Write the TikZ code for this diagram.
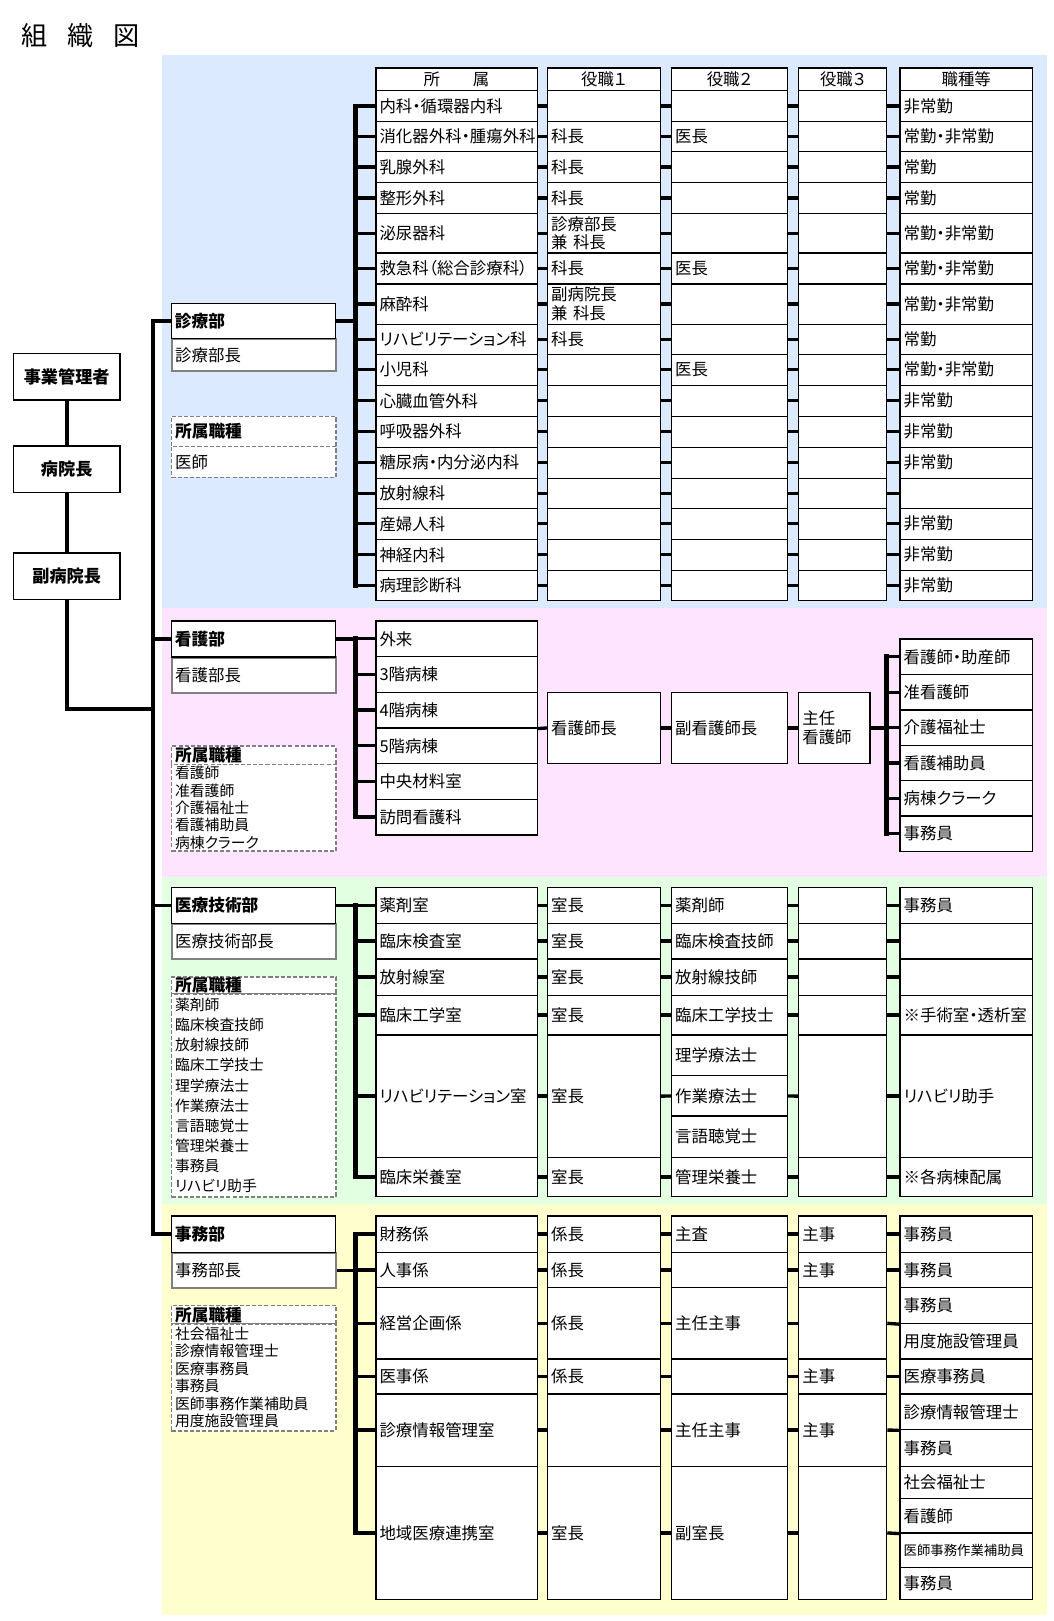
\documentclass[tikz,border=0pt]{standalone}
\usepackage{fontspec}
\setmainfont{Noto Sans CJK JP}[RawFeature={+palt}]
\usepackage{xcolor}

\definecolor{aoiro}{RGB}{219,234,254}
\definecolor{momoiro}{RGB}{255,228,255}
\definecolor{midori}{RGB}{226,255,226}
\definecolor{kiiro}{RGB}{255,255,206}
\definecolor{haiiro}{RGB}{128,128,128}

% one table cell: [style]{name}{x}{y top}{width}{height}{text}
\newcommand{\cel}[7][]{%
  \node[hako,#1,minimum height=#6*0.025cm,text width=#5*0.025cm-5pt]
  (#2) at (#3,#4) {#7};}

\begin{document}
\begin{tikzpicture}[
    x=0.025cm, y=-0.025cm,
    hako/.style={
    draw,
    line width=0.9pt,
    fill=white,
    anchor=north west,
    inner xsep=2.5pt,
    inner ysep=0pt,
    align=left,
    font=\fontsize{11.3}{13}\selectfont
    },
    midashi/.style={hako,align=center},
    bumon/.style={hako,font=\fontsize{11.5}{13}\selectfont\bfseries},
    bucho/.style={hako,draw=haiiro,line width=1.4pt},
    shokushu/.style={hako,draw=haiiro,line width=1.2pt,dash pattern=on 2.8pt off 1.4pt},
    shokushuT/.style={shokushu,font=\fontsize{11.5}{13}\selectfont\bfseries},
    shokushuL/.style={shokushu,font=\fontsize{10.2}{12}\selectfont},
    kanri/.style={
    draw,
    line width=0.9pt,
    fill=white,
    minimum width=103*0.025cm,
    minimum height=45*0.025cm,
    font=\fontsize{11.8}{13}\selectfont\bfseries
    },
    sen/.style={line width=2.3pt},
    link/.style={line width=2.8pt},
    kansen/.style={line width=3.2pt,line cap=rect}
    ]

    \useasboundingbox (0,0) rectangle (1019,1568);

    % backgrounds
    \fill[aoiro] (157,53) rectangle (1013,588);
    \fill[momoiro] (157,588) rectangle (1013,848);
    \fill[midori] (157,848) rectangle (1013,1165);
    \fill[kiiro] (157,1165) rectangle (1013,1562);

    \node[font=\fontsize{18}{20}\selectfont,anchor=west] (daimei)
    at (16,34) {組\hspace{0.75em}織\hspace{0.75em}図};

    % left chain
    \node[kanri] (jigyo) at (64.5,364.5) {事業管理者};
    \node[kanri] (incho) at (64.5,454) {病院長};
    \node[kanri] (fuku) at (64.5,557.5) {副病院長};
    \draw[link] (jigyo) -- (incho);
    \draw[link] (incho) -- (fuku);

    % headers
    \cel[midashi]{hA}{363}{65}{156}{22}{所　　属}
    \cel[midashi]{hB}{529}{65}{109}{22}{役職１}
    \cel[midashi]{hC}{649}{65}{112}{22}{役職２}
    \cel[midashi]{hD}{772}{65}{85}{22}{役職３}
    \cel[midashi]{hE}{870}{65}{128}{22}{職種等}

    % 診療部
    \cel[bucho]{shinc}{165}{326.5}{159}{31.5}{診療部長}
    \cel[bumon]{shin}{165}{293}{159}{33.5}{診療部}
    \cel[shokushuT]{shinS}{165}{402}{159}{29}{所属職種}
    \cel[shokushu]{shinL}{165}{431}{159}{30}{医師}

    \coordinate (sbus) at (344,0);
    \foreach \n/\ty/\hh/\ca/\cb/\cc/\ce in {
      1/87/30/内科・循環器内科/{}/{}/非常勤,
      2/117/29/消化器外科・腫瘍外科/科長/医長/常勤・非常勤,
      3/146/30/乳腺外科/科長/{}/常勤,
      4/176/30/整形外科/科長/{}/常勤,
      5/206/38/泌尿器科/{診療部長\\兼 科長}/{}/常勤・非常勤,
      6/244/30/救急科（総合診療科）/科長/医長/常勤・非常勤,
      7/274/39/麻酔科/{副病院長\\兼 科長}/{}/常勤・非常勤,
      8/313/29/リハビリテーション科/科長/{}/常勤,
      9/342/30/小児科/{}/医長/常勤・非常勤,
      10/372/30/心臓血管外科/{}/{}/非常勤,
      11/402/30/呼吸器外科/{}/{}/非常勤,
      12/432/30/糖尿病・内分泌内科/{}/{}/非常勤,
      13/462/29/放射線科/{}/{}/{},
      14/491/30/産婦人科/{}/{}/非常勤,
      15/521/30/神経内科/{}/{}/非常勤,
      16/551/29/病理診断科/{}/{}/非常勤}{
      \cel{sa\n}{363}{\ty}{156}{\hh}{\ca}
      \cel{sb\n}{529}{\ty}{109}{\hh}{\cb}
      \cel{sc\n}{649}{\ty}{112}{\hh}{\cc}
      \cel{sd\n}{772}{\ty}{85}{\hh}{}
      \cel{se\n}{870}{\ty}{128}{\hh}{\ce}
      \draw[sen] (sbus |- sa\n.west) -- (sa\n.west);
      \draw[sen] (sa\n.east) -- (sb\n.west);
      \draw[sen] (sb\n.east) -- (sc\n.west);
      \draw[sen] (sc\n.east) -- (sd\n.west);
      \draw[sen] (sd\n.east) -- (se\n.west);
    }
    \draw[kansen] (sbus |- sa1.west) -- (sbus |- sa16.west);
    \draw[sen] (shin.east) -- (sbus |- shin.east);

    % 看護部
    \cel[bucho]{kanc}{165}{635}{159}{34.5}{看護部長}
    \cel[bumon]{kan}{165}{600}{159}{35}{看護部}
    \cel[shokushuT]{kanS}{165}{721}{159}{17.6}{所属職種}
    \cel[shokushuL]{kanL}{165}{738.6}{159}{84}{看護師\\准看護師\\介護福祉士\\看護補助員\\病棟クラーク}

    \coordinate (pbus) at (344,0);
    \foreach \n/\ty/\ca in {1/600/外来, 2/634.5/3階病棟, 3/669/4階病棟,
      4/703.5/5階病棟, 5/738/中央材料室, 6/772.5/訪問看護科}{
      \cel{pa\n}{363}{\ty}{156}{34.5}{\ca}
      \draw[sen] (pbus |- pa\n.west) -- (pa\n.west);
    }
    \draw[kansen] (pbus |- pa1.west) -- (pbus |- pa6.west);
    \draw[sen] (kan.east) -- (pbus |- kan.east);

    \cel{nsc}{529}{669}{109}{69}{看護師長}
    \cel{fnc}{649}{669}{112}{69}{副看護師長}
    \cel{snc}{772}{669}{69}{69}{主任\\看護師}
    \draw[sen] (pa3.south east) -- (nsc.west);
    \draw[sen] (nsc.east) -- (fnc.west);
    \draw[sen] (fnc.east) -- (snc.west);

    \coordinate (pbus2) at (857.5,0);
    \foreach \n/\ty/\ce in {1/617.6/看護師・助産師, 2/651.8/准看護師, 3/686/介護福祉士,
      4/720.2/看護補助員, 5/754.4/病棟クラーク, 6/788.6/事務員}{
      \cel{pe\n}{870}{\ty}{128}{34.2}{\ce}
      \draw[sen] (pbus2 |- pe\n.west) -- (pe\n.west);
    }
    \draw[kansen] (pbus2 |- pe1.west) -- (pbus2 |- pe6.west);
    \draw[sen] (snc.east) -- (pbus2 |- snc.east);

    % 医療技術部
    \cel[bucho]{gijuc}{165}{892.5}{159}{34.5}{医療技術部長}
    \cel[bumon]{giju}{165}{858}{159}{34.5}{医療技術部}
    \cel[shokushuT]{gijuS}{165}{944.5}{159}{16}{所属職種}
    \cel[shokushuL,font=\fontsize{10.2}{13.8}\selectfont]{gijuL}{165}{960.5}{159}{196.5}{薬剤師\\臨床検査技師\\放射線技師\\臨床工学技士\\理学療法士\\作業療法士\\言語聴覚士\\管理栄養士\\事務員\\リハビリ助手}

    \coordinate (gbus) at (344,0);
    \foreach \n/\ty/\hh/\ca/\ce in {1/858/34.5/薬剤室/事務員,
      2/892.5/34.5/臨床検査室/{}, 3/927/35/放射線室/{},
      4/962/38.6/臨床工学室/※手術室・透析室,
      5/1000.6/118.1/リハビリテーション室/リハビリ助手,
      6/1118.7/38.3/臨床栄養室/※各病棟配属}{
      \cel{ga\n}{363}{\ty}{156}{\hh}{\ca}
      \cel{gb\n}{529}{\ty}{109}{\hh}{室長}
      \cel{gd\n}{772}{\ty}{85}{\hh}{}
      \cel{ge\n}{870}{\ty}{128}{\hh}{\ce}
      \draw[sen] (gbus |- ga\n.west) -- (ga\n.west);
      \draw[sen] (ga\n.east) -- (gb\n.west);
      \draw[sen] (gd\n.east) -- (ge\n.west);
    }
    \foreach \n/\ty/\hh/\cc in {1/858/34.5/薬剤師, 2/892.5/34.5/臨床検査技師,
      3/927/35/放射線技師, 4/962/38.6/臨床工学技士, 5/1000.6/39.4/理学療法士,
      6/1040/39/作業療法士, 7/1079/39.7/言語聴覚士, 8/1118.7/38.3/管理栄養士}{
      \cel{gc\n}{649}{\ty}{112}{\hh}{\cc}
    }
    \foreach \n/\m in {1/1, 2/2, 3/3, 4/4, 5/6, 6/8}{
      \draw[sen] (gb\n.east) -- (gc\m.west);
      \draw[sen] (gc\m.east) -- (gd\n.west);
    }
    \draw[kansen] (gbus |- ga1.west) -- (gbus |- ga6.west);
    \draw[sen] (giju.east) -- (gbus |- giju.east);

    % 事務部
    \cel[bucho]{jimuc}{165}{1210.6}{159}{34.4}{事務部長}
    \cel[bumon]{jimu}{165}{1175.7}{159}{34.9}{事務部}
    \cel[shokushuT]{jimuS}{165}{1262}{159}{18}{所属職種}
    \cel[shokushuL]{jimuL}{165}{1280}{159}{103}{社会福祉士\\診療情報管理士\\医療事務員\\事務員\\医師事務作業補助員\\用度施設管理員}

    \coordinate (jbus) at (344,0);
    \foreach \n/\ty/\hh/\ca/\cb/\cc/\cd in {
      1/1175.7/34.9/財務係/係長/主査/主事,
      2/1210.6/34.4/人事係/係長/{}/主事,
      3/1245/68.8/経営企画係/係長/主任主事/{},
      4/1313.8/33.9/医事係/係長/{}/主事,
      5/1347.7/70/診療情報管理室/{}/主任主事/主事,
      6/1417.7/128.9/地域医療連携室/室長/副室長/{}}{
      \cel{ya\n}{363}{\ty}{156}{\hh}{\ca}
      \cel{yb\n}{529}{\ty}{109}{\hh}{\cb}
      \cel{yc\n}{649}{\ty}{112}{\hh}{\cc}
      \cel{yd\n}{772}{\ty}{85}{\hh}{\cd}
      \draw[sen] (jbus |- ya\n.west) -- (ya\n.west);
      \draw[sen] (ya\n.east) -- (yb\n.west);
      \draw[sen] (yb\n.east) -- (yc\n.west);
      \draw[sen] (yc\n.east) -- (yd\n.west);
    }
    \foreach \n/\ty/\hh/\ce in {1/1175.7/34.9/事務員, 2/1210.6/34.4/事務員,
      3/1245/34.6/事務員, 4/1279.6/34.2/用度施設管理員, 5/1313.8/33.9/医療事務員,
      6/1347.7/34.5/診療情報管理士, 7/1382.2/35.5/事務員, 8/1417.7/31.3/社会福祉士,
      9/1449/33.2/看護師, 10/1482.2/33.2/{\fontsize{9.2}{10}\selectfont 医師事務作業補助員},
      11/1515.4/31.2/事務員}{
      \cel{ye\n}{870}{\ty}{128}{\hh}{\ce}
    }
    \foreach \n/\p in {1/ye1.west, 2/ye2.west, 3/ye3.south west,
      4/ye5.west, 5/ye6.south west, 6/ye9.south west}{
      \draw[sen] (yd\n.east) -- (\p);
    }
    \draw[kansen] (jbus |- ya1.west) -- (jbus |- ya6.west);
    \draw[sen] (jimuc.east) -- (jbus |- jimuc.east);

    % main line
    \coordinate (kijun) at (148,686);
    \draw[kansen] (kijun |- shin.west) -- (kijun |- jimu.west);
    \foreach \b in {shin,kan,giju,jimu}{
      \draw[sen] (kijun |- \b.west) -- (\b.west);
    }
    \draw[link] (fuku.south) |- (kijun);

    \end{tikzpicture}
\end{document}
